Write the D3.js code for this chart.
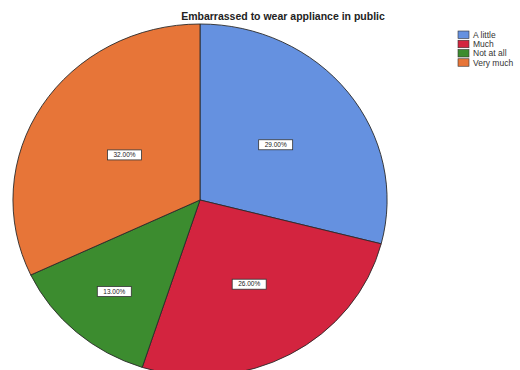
<!DOCTYPE html>
<html>
<head>
<meta charset="utf-8">
<script src="https://cdn.jsdelivr.net/npm/d3@7"></script>
<style>
  html, body { margin: 0; padding: 0; background: #fff; }
  svg { display: block; }
</style>
</head>
<body>
<svg id="chart" width="520" height="370"></svg>
<script>
// Survey responses: "Embarrassed to wear appliance in public"
const categories = ["A little", "Much", "Not at all", "Very much"];
const percents = [29, 26, 13, 32];
const colors = ["#6591e0", "#d3243f", "#3c8c2f", "#e77538"];
const titleText = "Embarrassed to wear appliance in public";

const svg = d3.select("#chart");

// Pie is drawn as a unit circle and stretched into an ellipse
const cx = 200, cy = 200, rx = 187, ry = 176;

const data = categories.map((c, i) => ({ cat: c, value: percents[i], color: colors[i] }));
const pie = d3.pie().sort(null).value(d => d.value);
const arcs = pie(data);
const unitArc = d3.arc().innerRadius(0).outerRadius(1);

const g = svg.append("g")
  .attr("transform", `translate(${cx},${cy}) scale(${rx},${ry})`);

g.selectAll("path.slice")
  .data(arcs)
  .enter().append("path")
  .attr("class", "slice")
  .attr("d", unitArc)
  .attr("fill", d => d.data.color)
  .attr("stroke", "#2a2a2a")
  .attr("stroke-width", 0.9)
  .attr("vector-effect", "non-scaling-stroke");

// Percentage labels on each slice's mid-angle; narrower slices push the label outward
const fmt = d => d3.format(".2f")(d) + "%";
const labels = svg.append("g");
arcs.forEach(a => {
  const mid = (a.startAngle + a.endAngle) / 2;
  const half = (a.endAngle - a.startAngle) / 2;
  const rr = 0.84 - 0.36 * half;
  const x = cx + rx * rr * Math.sin(mid);
  const y = cy - ry * rr * Math.cos(mid);
  const lg = labels.append("g").attr("transform", `translate(${x},${y})`);
  const bw = 34, bh = 10;
  lg.append("rect")
    .attr("x", -bw / 2).attr("y", -bh / 2)
    .attr("width", bw).attr("height", bh)
    .attr("fill", "#fff")
    .attr("stroke", "#333")
    .attr("stroke-width", 0.8);
  lg.append("text")
    .attr("text-anchor", "middle")
    .attr("dy", "0.35em")
    .attr("font-family", "Liberation Sans, Arial, sans-serif")
    .attr("font-size", 6.5)
    .attr("fill", "#222")
    .text(fmt(a.data.value));
});

// Title
svg.append("text")
  .attr("x", 283).attr("y", 20)
  .attr("text-anchor", "middle")
  .attr("font-family", "Liberation Sans, Arial, sans-serif")
  .attr("font-weight", "bold")
  .attr("font-size", 10.5)
  .attr("fill", "#222")
  .text(titleText);

// Legend
const legend = svg.append("g").attr("transform", "translate(458,31)");
const rowY = d3.scaleBand().domain(categories).range([0, 37]);
categories.forEach((c, i) => {
  const row = legend.append("g").attr("transform", `translate(0,${rowY(c)})`);
  row.append("rect")
    .attr("width", 11).attr("height", 7.5)
    .attr("fill", colors[i])
    .attr("stroke", "#333")
    .attr("stroke-width", 0.6);
  row.append("text")
    .attr("x", 15).attr("y", 4)
    .attr("dy", "0.35em")
    .attr("font-family", "Liberation Sans, Arial, sans-serif")
    .attr("font-size", 8.5)
    .attr("fill", "#333")
    .text(c);
});
</script>
</body>
</html>
